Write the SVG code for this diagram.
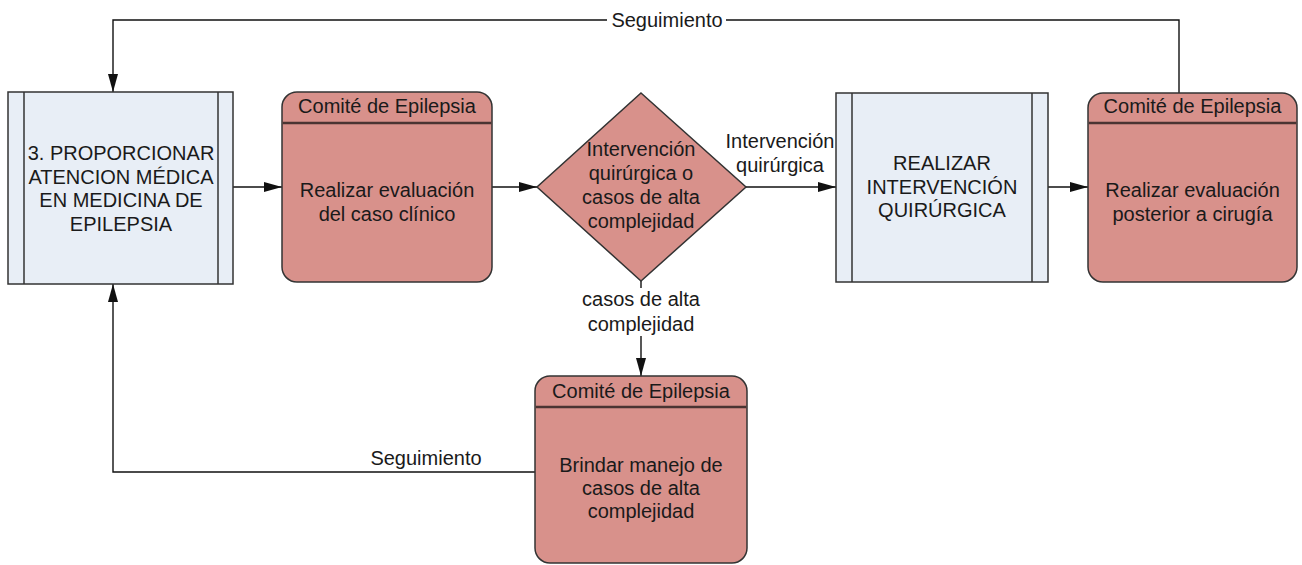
<svg xmlns="http://www.w3.org/2000/svg" width="1302" height="565" viewBox="0 0 1302 565">
<style>
text{font-family:"Liberation Sans",Arial,sans-serif;font-size:20px;fill:#1a1a1a;text-anchor:middle}
.sub{fill:#E8EEF6;stroke:#333;stroke-width:1.5}
.inner{stroke:#333;stroke-width:1.5}
.act{fill:#D8918B;stroke:#333;stroke-width:1.5}
.hdr{stroke:#4a3432;stroke-width:2.5}
.con{fill:none;stroke:#111;stroke-width:1.4}
</style>
<defs>
<marker id="ah" viewBox="0 0 18 10" refX="18" refY="5" markerWidth="18" markerHeight="10" markerUnits="userSpaceOnUse" orient="auto">
<path d="M0,0 L18,5 L0,10 z" fill="#111"/>
</marker>
</defs>
<rect width="1302" height="565" fill="#fff"/>

<g id="connectors">
<path class="con" d="M226,187 H282" marker-end="url(#ah)"/>
<path class="con" d="M492,187 H537" marker-end="url(#ah)"/>
<path class="con" d="M746,187 H836" marker-end="url(#ah)"/>
<path class="con" d="M1048,187 H1088" marker-end="url(#ah)"/>
<path class="con" d="M641,281 V376" marker-end="url(#ah)"/>
<path class="con" d="M1179,93 V20 H113 V92" marker-end="url(#ah)"/>
<path class="con" d="M535,472 H113 V284" marker-end="url(#ah)"/>
<rect x="607" y="10" width="119" height="22" fill="#fff"/>
<text x="667" y="27">Seguimiento</text>
<text x="426" y="465">Seguimiento</text>
<rect x="722" y="128" width="114" height="50" fill="#fff"/>
<text x="780" y="148">Intervención</text>
<text x="780" y="172">quirúrgica</text>
<rect x="576" y="288" width="130" height="48" fill="#fff"/>
<text x="641" y="306">casos de alta</text>
<text x="641" y="331">complejidad</text>
</g>

<g id="node-atencion">
<rect class="sub" x="8" y="92" width="225" height="192"/>
<line class="inner" x1="24" y1="92" x2="24" y2="284"/>
<line class="inner" x1="218" y1="92" x2="218" y2="284"/>
<text x="121" y="160">3. PROPORCIONAR</text>
<text x="121" y="183.5">ATENCION MÉDICA</text>
<text x="121" y="207">EN MEDICINA DE</text>
<text x="121" y="230.5">EPILEPSIA</text>
</g>

<g id="node-evaluacion">
<rect class="act" x="282" y="92" width="210" height="190" rx="15"/>
<line class="hdr" x1="282.75" y1="123" x2="491.25" y2="123"/>
<text x="387" y="113">Comité de Epilepsia</text>
<text x="387" y="197">Realizar evaluación</text>
<text x="387" y="221">del caso clínico</text>
</g>

<g id="node-decision">
<path class="act" d="M641,93 L746,187 L641,281 L537,187 z"/>
<text x="641" y="156">Intervención</text>
<text x="641" y="180">quirúrgica o</text>
<text x="641" y="204">casos de alta</text>
<text x="641" y="228">complejidad</text>
</g>

<g id="node-intervencion">
<rect class="sub" x="836" y="93" width="212" height="189"/>
<line class="inner" x1="852" y1="93" x2="852" y2="282"/>
<line class="inner" x1="1032" y1="93" x2="1032" y2="282"/>
<text x="942" y="170">REALIZAR</text>
<text x="942" y="194">INTERVENCIÓN</text>
<text x="942" y="217">QUIRÚRGICA</text>
</g>

<g id="node-posterior">
<rect class="act" x="1088" y="93" width="209" height="189" rx="15"/>
<line class="hdr" x1="1088.75" y1="123" x2="1296.25" y2="123"/>
<text x="1192.5" y="113">Comité de Epilepsia</text>
<text x="1192.5" y="197">Realizar evaluación</text>
<text x="1192.5" y="221">posterior a cirugía</text>
</g>

<g id="node-manejo">
<rect class="act" x="535" y="376" width="212" height="187" rx="15"/>
<line class="hdr" x1="535.75" y1="407" x2="746.25" y2="407"/>
<text x="641" y="398">Comité de Epilepsia</text>
<text x="641" y="472">Brindar manejo de</text>
<text x="641" y="495">casos de alta</text>
<text x="641" y="518">complejidad</text>
</g>
</svg>
